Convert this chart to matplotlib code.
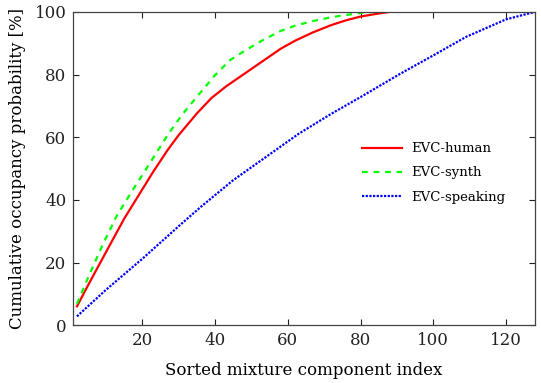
import matplotlib
matplotlib.use("Agg")
import matplotlib.pyplot as plt

# cumulative occupancy curves
human_x = [2, 5, 9, 12, 15, 19, 23, 27, 30, 35, 39, 43, 47, 51, 55, 58, 62, 67, 72, 76, 80, 84, 88, 128]
human_y = [6.0, 12.6, 21.2, 27.6, 34.0, 41.5, 49.0, 56.0, 60.7, 67.6, 72.5, 76.2, 79.4, 82.6, 85.8,
           88.2, 90.8, 93.5, 95.8, 97.3, 98.5, 99.3, 100.0, 100.0]

synth_x = [2, 5, 9, 13, 17, 22, 27, 31, 36, 40, 44, 48, 53, 58, 62, 67, 72, 76, 81, 85, 128]
synth_y = [6.8, 15.0, 25.5, 35.0, 42.5, 51.6, 60.8, 67.3, 74.3, 79.8, 84.5, 87.5, 90.9, 93.9,
           95.6, 97.1, 98.3, 99.0, 99.8, 100.0, 100.0]

speak_x = [2, 10, 20, 30, 36, 45, 54, 63, 72, 80, 91, 100, 109, 120, 128]
speak_y = [2.8, 11.3, 21.2, 31.6, 37.7, 46.3, 53.7, 61.1, 67.5, 72.8, 80.3, 86.1, 92.0, 97.6, 100.0]

labels = ['EVC-human', 'EVC-synth', 'EVC-speaking']
xticks = [20, 40, 60, 80, 100, 120]
yticks = [0, 20, 40, 60, 80, 100]

plt.rcParams['font.family'] = ['DejaVu Serif']

fig = plt.figure(figsize=(5.41, 3.83), dpi=100)
ax = fig.add_axes([0.1355, 0.151, 0.8535, 0.818])

ax.plot(human_x, human_y, color='#ff0000', lw=1.6, ls='-', label=labels[0])
ax.plot(synth_x, synth_y, color='#00ff00', lw=1.6, ls=(0, (2.6, 2.6)), label=labels[1])
ax.plot(speak_x, speak_y, color='#0000ff', lw=1.6, ls=(0, (1, 0.65)), label=labels[2])

ax.set_xlim(1, 128)
ax.set_ylim(0, 100)
ax.set_xticks(xticks)
ax.set_yticks(yticks)
ax.tick_params(direction='in', length=4, width=0.8, top=True, right=True,
               labelsize=12, colors='#222222', pad=5)
for sp in ax.spines.values():
    sp.set_color('#444444')
    sp.set_linewidth(0.9)

ax.set_xlabel('Sorted mixture component index', fontsize=12, labelpad=9)
ax.set_ylabel('Cumulative occupancy probability [%]', fontsize=12, labelpad=6)

leg = ax.legend(loc='upper left', bbox_to_anchor=(0.6, 0.622), frameon=False,
                fontsize=9.5, handlelength=3.0, handletextpad=0.7, labelspacing=0.85)

fig.savefig('out.png', dpi=100)
plt.close(fig)
